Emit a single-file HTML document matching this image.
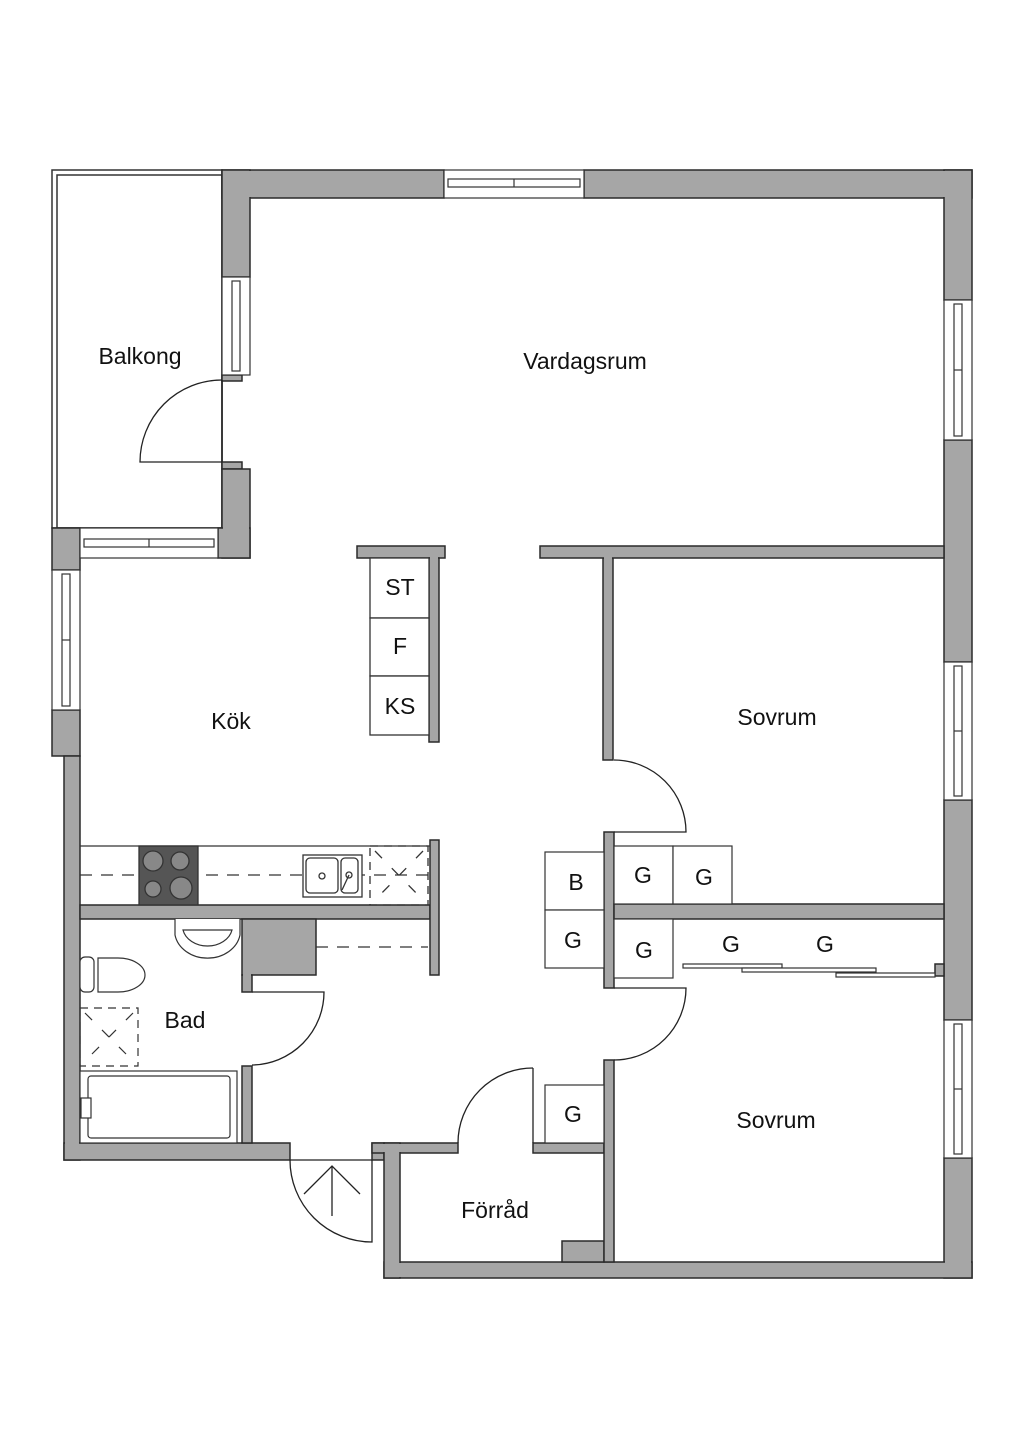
<!DOCTYPE html>
<html><head><meta charset="utf-8"><style>
html,body{margin:0;padding:0;background:#fff;}
svg{display:block}
text{font-family:"Liberation Sans",sans-serif;fill:#111;}
</style></head><body>
<svg width="1024" height="1448" viewBox="0 0 1024 1448" xmlns="http://www.w3.org/2000/svg">
<rect width="1024" height="1448" fill="#fff"/>
<!-- Balkong outline -->
<rect x="52" y="170" width="170" height="358" fill="none" stroke="#333" stroke-width="1.5"/>
<rect x="57" y="175" width="165" height="353" fill="none" stroke="#333" stroke-width="1.5"/>
<g id="walls" fill="#a6a6a6" stroke="#2a2a2a" stroke-width="1.5">
<rect x="222" y="170" width="222" height="28"/>
<rect x="584" y="170" width="388" height="28"/>
<rect x="944" y="170" width="28" height="130"/>
<rect x="944" y="440" width="28" height="222"/>
<rect x="944" y="800" width="28" height="220"/>
<rect x="944" y="1158" width="28" height="120"/>
<rect x="384" y="1262" width="588" height="16"/>
<rect x="222" y="170" width="28" height="107"/>
<rect x="222" y="375" width="20" height="6"/>
<rect x="222" y="462" width="20" height="7"/>
<rect x="222" y="469" width="28" height="89"/>
<rect x="218" y="528" width="32" height="30"/>
<rect x="52" y="528" width="28" height="42"/>
<rect x="52" y="710" width="28" height="46"/>
<rect x="64" y="756" width="16" height="404"/>
<rect x="64" y="1143" width="226" height="17"/>
<rect x="372" y="1143" width="12" height="17"/>
<rect x="372" y="1143" width="86" height="10"/>
<rect x="384" y="1143" width="16" height="135"/>
<rect x="533" y="1143" width="71" height="10"/>
<rect x="562" y="1241" width="42" height="21"/>
<rect x="604" y="1060" width="10" height="202"/>
<rect x="604" y="832" width="10" height="156"/>
<rect x="603" y="558" width="10" height="202"/>
<rect x="540" y="546" width="404" height="12"/>
<rect x="614" y="904" width="330" height="15"/>
<rect x="80" y="905" width="350" height="14"/>
<rect x="430" y="840" width="9" height="135"/>
<rect x="242" y="919" width="74" height="56"/>
<rect x="242" y="975" width="10" height="17"/>
<rect x="242" y="1066" width="10" height="77"/>
<rect x="357" y="546" width="88" height="12"/>
<rect x="429" y="558" width="10" height="184"/>
<rect x="935" y="964" width="9" height="12"/>
</g>
<!-- hide internal seams -->
<g fill="#a6a6a6">
<rect x="223" y="171" width="220" height="26"/>
<rect x="223" y="171" width="26" height="105"/>
<rect x="585" y="171" width="386" height="26"/>
<rect x="945" y="171" width="26" height="128"/>
<rect x="945" y="1159" width="26" height="118"/>
<rect x="385" y="1263" width="586" height="14"/>
<rect x="385" y="1144" width="14" height="133"/>
<rect x="373" y="1144" width="84" height="8"/>
<rect x="223" y="470" width="26" height="87"/>
<rect x="219" y="529" width="30" height="28"/>
<rect x="53" y="711" width="26" height="44"/>
<rect x="65" y="757" width="14" height="402"/>
<rect x="65" y="1144" width="224" height="15"/>
<rect x="605" y="1061" width="8" height="200"/>
<rect x="534" y="1144" width="69" height="8"/>
<rect x="563" y="1242" width="40" height="19"/>
<rect x="541" y="547" width="402" height="10"/>
<rect x="604" y="547" width="8" height="212"/>
<rect x="615" y="905" width="328" height="13"/>
<rect x="945" y="905" width="26" height="13"/>
<rect x="81" y="906" width="348" height="12"/>
<rect x="431" y="841" width="7" height="133"/>
<rect x="243" y="920" width="72" height="54"/>
<rect x="243" y="920" width="8" height="71"/>
<rect x="358" y="547" width="86" height="10"/>
<rect x="430" y="547" width="8" height="194"/>
<rect x="605" y="833" width="8" height="154"/>
</g>
<!-- windows -->
<g fill="#fff" stroke="#333" stroke-width="1.2">
<rect x="444" y="170" width="140" height="28"/><rect x="448" y="179" width="132" height="8"/><line x1="514" y1="179" x2="514" y2="187"/>
<rect x="222" y="277" width="28" height="98"/><rect x="232" y="281" width="8" height="90"/>
<rect x="80" y="528" width="138" height="30"/><rect x="84" y="539" width="130" height="8"/><line x1="149" y1="539" x2="149" y2="547"/>
<rect x="52" y="570" width="28" height="140"/><rect x="62" y="574" width="8" height="132"/><line x1="62" y1="640" x2="70" y2="640"/>
<rect x="944" y="300" width="28" height="140"/><rect x="954" y="304" width="8" height="132"/><line x1="954" y1="370" x2="962" y2="370"/>
<rect x="944" y="662" width="28" height="138"/><rect x="954" y="666" width="8" height="130"/><line x1="954" y1="731" x2="962" y2="731"/>
<rect x="944" y="1020" width="28" height="138"/><rect x="954" y="1024" width="8" height="130"/><line x1="954" y1="1089" x2="962" y2="1089"/>
</g>
<!-- doors -->
<g fill="none" stroke="#222" stroke-width="1.3">
<path d="M222 380 A82 82 0 0 0 140 462 L222 462"/>
<line x1="222" y1="380" x2="222" y2="462"/>
<path d="M614 760 A72 72 0 0 1 686 832 L614 832"/>
<path d="M614 988 L686 988 A72 72 0 0 1 614 1060"/>
<path d="M252 992 L324 992 A73 73 0 0 1 252 1065"/>
<path d="M533 1068 A75 75 0 0 0 458 1143"/><line x1="533" y1="1068" x2="533" y2="1143"/>
<path d="M290 1160 A82 82 0 0 0 372 1242 L372 1160"/>
<line x1="290" y1="1160" x2="372" y2="1160"/>
<line x1="332" y1="1216" x2="332" y2="1166"/>
<polyline points="304,1194 332,1166 360,1194"/>
</g>
<!-- island -->
<g fill="#fff" stroke="#333" stroke-width="1.3">
<rect x="370" y="558" width="59" height="60"/><rect x="370" y="618" width="59" height="58"/><rect x="370" y="676" width="59" height="59"/>
</g>
<!-- kitchen counter -->
<g stroke="#333" stroke-width="1.3" fill="none">
<line x1="80" y1="846" x2="430" y2="846"/>
<line x1="80" y1="875" x2="430" y2="875" stroke-dasharray="12,9"/>
<rect x="139" y="846" width="59" height="59" fill="#555"/>
<circle cx="153" cy="861" r="10" fill="#888"/><circle cx="180" cy="861" r="9" fill="#888"/>
<circle cx="153" cy="889" r="8" fill="#888"/><circle cx="181" cy="888" r="11" fill="#888"/>
<rect x="303" y="855" width="59" height="42" fill="#fff"/><rect x="306" y="858" width="32" height="35" rx="4" fill="#fff"/><rect x="341" y="858" width="17" height="35" rx="4" fill="#fff"/>
<circle cx="322" cy="876" r="3"/><circle cx="349" cy="875" r="3"/><line x1="349" y1="875" x2="342" y2="890"/>
<rect x="370" y="846" width="58" height="59" stroke-dasharray="8,6"/>
<line x1="375" y1="851" x2="423" y2="900" stroke-dasharray="10,14"/><line x1="423" y1="851" x2="375" y2="900" stroke-dasharray="10,14"/>
<line x1="316" y1="947" x2="428" y2="947" stroke-dasharray="12,9"/>
</g>
<!-- bath fixtures -->
<g stroke="#333" stroke-width="1.2" fill="#fff">
<path d="M175 919 L175 935 A33 28 0 0 0 240 935 L240 919"/>
<path d="M183 930 A25 20 0 0 0 232 930 Z"/>
<rect x="80" y="957" width="14" height="35" rx="5"/>
<path d="M98 958 L118 958 A27 17 0 0 1 118 992 L98 992 Z"/>
<rect x="80" y="1008" width="58" height="58" fill="none" stroke-dasharray="8,6"/>
<line x1="85" y1="1013" x2="133" y2="1061" stroke-dasharray="10,14" /><line x1="133" y1="1013" x2="85" y2="1061" stroke-dasharray="10,14"/>
<rect x="80" y="1071" width="157" height="72"/>
<rect x="88" y="1076" width="142" height="62" rx="3"/>
<rect x="81" y="1098" width="10" height="20"/>
</g>
<!-- closets -->
<g fill="#fff" stroke="#333" stroke-width="1.2">
<rect x="545" y="852" width="59" height="58"/><rect x="545" y="910" width="59" height="58"/>
<rect x="614" y="846" width="59" height="58"/><rect x="673" y="846" width="59" height="58"/>
<rect x="614" y="919" width="59" height="59"/>
<rect x="545" y="1085" width="59" height="58"/>
<rect x="683" y="964" width="99" height="4"/><rect x="742" y="968" width="134" height="4"/><rect x="836" y="973" width="99" height="4"/>
</g>
<!-- labels -->
<g font-size="23">
<text x="140" y="364" text-anchor="middle">Balkong</text>
<text x="585" y="369" text-anchor="middle">Vardagsrum</text>
<text x="231" y="729" text-anchor="middle">Kök</text>
<text x="777" y="725" text-anchor="middle">Sovrum</text>
<text x="776" y="1128" text-anchor="middle">Sovrum</text>
<text x="185" y="1028" text-anchor="middle">Bad</text>
<text x="495" y="1218" text-anchor="middle">Förråd</text>
<text x="400" y="595" text-anchor="middle">ST</text>
<text x="400" y="654" text-anchor="middle">F</text>
<text x="400" y="714" text-anchor="middle">KS</text>
<text x="576" y="890" text-anchor="middle">B</text>
<text x="573" y="948" text-anchor="middle">G</text>
<text x="643" y="883" text-anchor="middle">G</text>
<text x="704" y="885" text-anchor="middle">G</text>
<text x="644" y="958" text-anchor="middle">G</text>
<text x="731" y="952" text-anchor="middle">G</text>
<text x="825" y="952" text-anchor="middle">G</text>
<text x="573" y="1122" text-anchor="middle">G</text>
</g>
</svg>
</body></html>
